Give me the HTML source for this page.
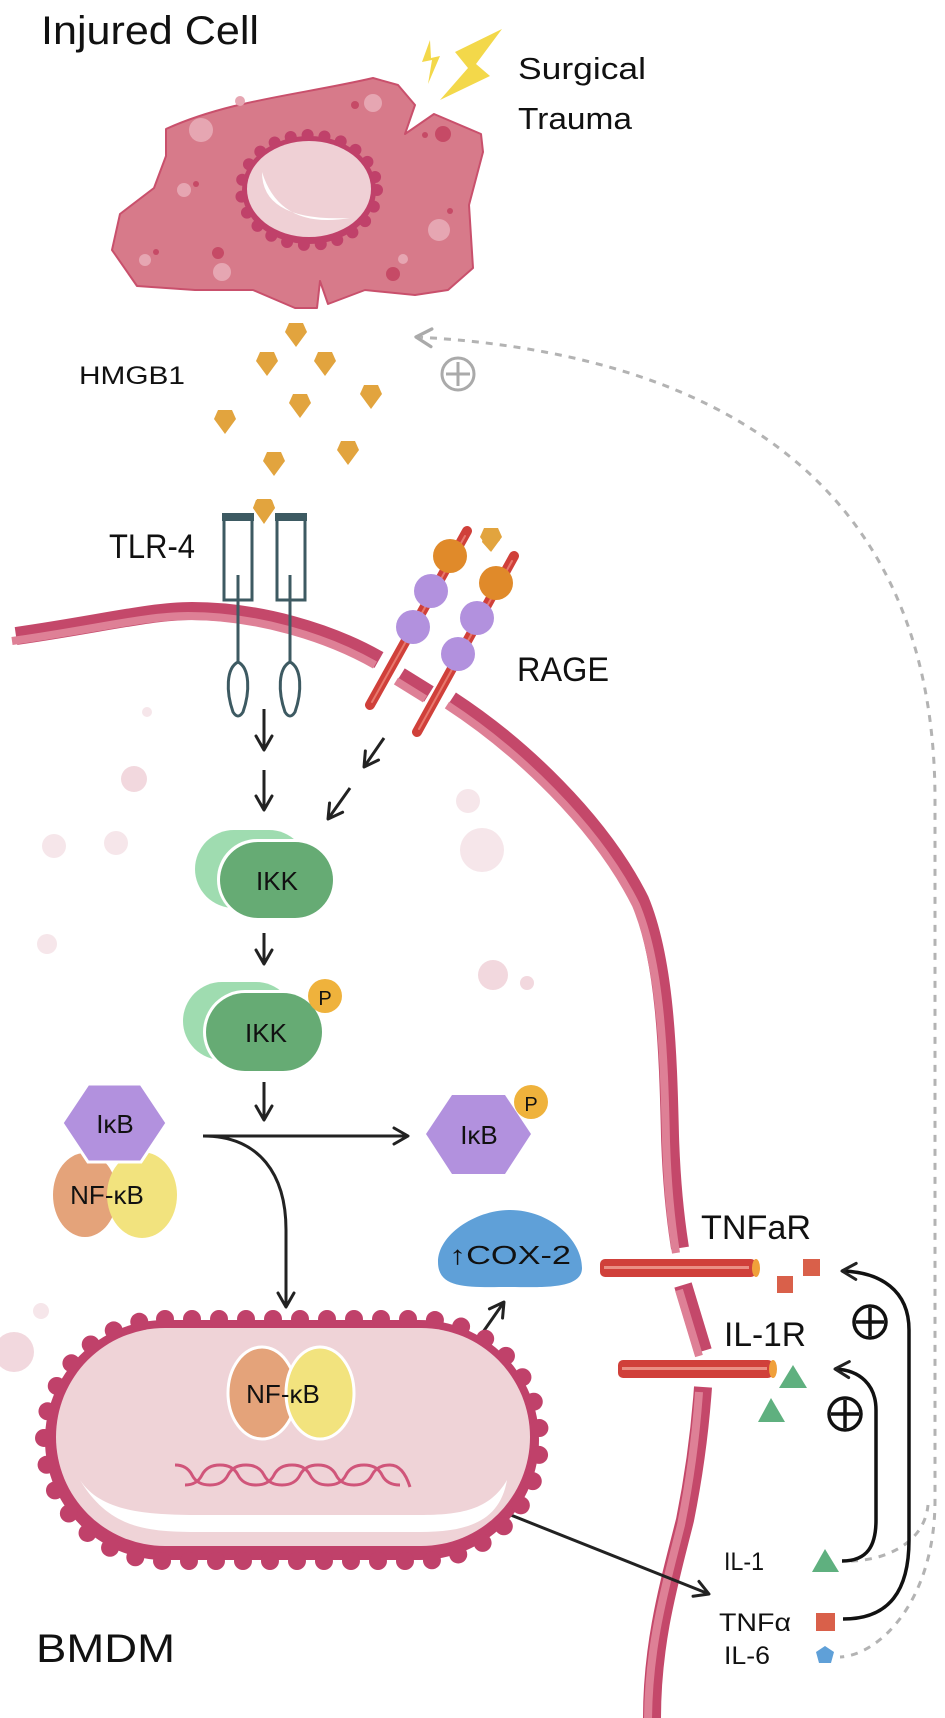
<!DOCTYPE html>
<html><head><meta charset="utf-8"><style>
html,body{margin:0;padding:0;background:#fff}
svg{display:block}
text{font-family:"Liberation Sans",sans-serif;fill:#111}
</style></head><body>
<svg width="945" height="1718" viewBox="0 0 945 1718" xmlns="http://www.w3.org/2000/svg">
<defs>
<marker id="ah" viewBox="0 0 20 20" refX="17" refY="10" markerWidth="20" markerHeight="20" markerUnits="userSpaceOnUse" orient="auto">
<path d="M3,2 L17,10 L3,18" fill="none" stroke="#222" stroke-width="3" stroke-linecap="round" stroke-linejoin="round"/></marker>
<marker id="ahg" viewBox="0 0 20 20" refX="3" refY="10" markerWidth="22" markerHeight="22" markerUnits="userSpaceOnUse" orient="auto">
<path d="M17,2 L3,10 L17,18" fill="none" stroke="#aaa" stroke-width="3" stroke-linecap="round" stroke-linejoin="round"/></marker>
</defs>

<g fill="#f6e6ea">
<circle cx="134" cy="779" r="13" fill="#f2d8de"/><circle cx="54" cy="846" r="12"/><circle cx="116" cy="843" r="12"/>
<circle cx="47" cy="944" r="10"/><circle cx="468" cy="801" r="12"/><circle cx="482" cy="850" r="22"/>
<circle cx="493" cy="975" r="15" fill="#f2d8de"/><circle cx="527" cy="983" r="7" fill="#f2d8de"/><circle cx="147" cy="712" r="5"/>
<circle cx="14" cy="1352" r="20" fill="#f2d8de"/><circle cx="41" cy="1311" r="8"/>
</g>

<text x="41" y="44" font-size="40" textLength="218" lengthAdjust="spacingAndGlyphs">Injured Cell</text>
<text x="518" y="79" font-size="31" textLength="128" lengthAdjust="spacingAndGlyphs">Surgical</text>
<text x="518" y="129" font-size="31" textLength="114" lengthAdjust="spacingAndGlyphs">Trauma</text>

<path d="M430,40 L422,62 L432,60 L428,84 L440,56 L431,58 Z" fill="#f3d84a"/>
<path d="M502,29 L455,52 L468,68 L440,100 L490,76 L476,64 Z" fill="#f3d84a"/>

<path d="M166,129 C230,100 300,95 373,78 L398,85 L415,105 L405,134 L434,114 L481,134 L483,152 L469,205 L473,268 L448,290 L415,295 L365,290 L328,304 L320,281 L317,308 L295,308 L253,290 L195,290 L137,286 L112,250 L120,214 L154,188 L166,156 Z" fill="#d77a8a" stroke="#c9506c" stroke-width="2" stroke-linejoin="round"/>
<g fill="#e6a6b2"><circle cx="201" cy="130" r="12"/><circle cx="373" cy="103" r="9"/><circle cx="439" cy="230" r="11"/><circle cx="222" cy="272" r="9"/><circle cx="145" cy="260" r="6"/><circle cx="184" cy="190" r="7"/><circle cx="240" cy="101" r="5"/><circle cx="403" cy="259" r="5"/></g>
<g fill="#c64a66"><circle cx="443" cy="134" r="8"/><circle cx="355" cy="105" r="4"/><circle cx="218" cy="253" r="6"/><circle cx="393" cy="274" r="7"/><circle cx="196" cy="184" r="3"/><circle cx="450" cy="211" r="3"/><circle cx="425" cy="135" r="3"/><circle cx="156" cy="252" r="3"/></g>
<ellipse cx="309" cy="190" rx="67" ry="54" fill="#c0416a"/>
<ellipse cx="309" cy="190" rx="68" ry="55" fill="none" stroke="#c0416a" stroke-width="12" stroke-dasharray="0 17" stroke-linecap="round"/>
<ellipse cx="309" cy="189" rx="62" ry="48" fill="#efd0d5"/>
<path d="M262,172 Q262,222 350,218 Q280,230 262,172 Z" fill="#fff"/>

<text x="79" y="384" font-size="25" textLength="106" lengthAdjust="spacingAndGlyphs">HMGB1</text>
<g fill="#e2a43e">
<path id="hx" d="M-7,-12 L7,-12 L11,-3 L0,12 L-11,-3 Z" transform="translate(296,335)"/>
<use href="#hx" transform="translate(-29,29)"/><use href="#hx" transform="translate(29,29)"/>
<use href="#hx" transform="translate(75,62)"/><use href="#hx" transform="translate(4,71)"/>
<use href="#hx" transform="translate(-71,87)"/><use href="#hx" transform="translate(52,118)"/>
<use href="#hx" transform="translate(-22,129)"/><use href="#hx" transform="translate(-32,176)"/>
<use href="#hx" transform="translate(195,205)"/>
</g>

<path d="M416,337 C700,352 935,470 935,800 L935,1500 C935,1600 880,1655 840,1657" fill="none" stroke="#b3b3b3" stroke-width="3" stroke-dasharray="7 7" marker-start="url(#ahg)"/>
<path d="M851,1561 C890,1560 925,1540 928,1505" fill="none" stroke="#b3b3b3" stroke-width="3" stroke-dasharray="7 7"/>
<circle cx="458" cy="374" r="16" fill="none" stroke="#aaa" stroke-width="3"/>
<path d="M446,374 H470 M458,362 V386" stroke="#aaa" stroke-width="3"/>

<g fill="none" stroke-linecap="butt">
<g stroke="#c4486a" stroke-width="18">
<path d="M16,636 C100,624 150,611 192,611 C260,611 330,632 379,660"/>
<path d="M400,676 L429,694"/>
<path d="M451,700 C520,745 600,820 640,900 C665,960 668,1050 670,1136 C672,1200 678,1235 680,1248"/>
<path d="M683,1285 L703,1351"/>
<path d="M703,1387 C700,1430 695,1470 685,1520 C670,1580 652,1640 652,1718"/>
</g>
<g stroke="#de8096" stroke-width="8" transform="translate(-4,5)">
<path d="M16,636 C100,624 150,611 192,611 C260,611 330,632 379,660"/>
<path d="M400,676 L429,694"/>
<path d="M451,700 C520,745 600,820 640,900 C665,960 668,1050 670,1136 C672,1200 678,1235 680,1248"/>
<path d="M683,1285 L703,1351"/>
<path d="M703,1387 C700,1430 695,1470 685,1520 C670,1580 652,1640 652,1718"/>
</g>
</g>

<text x="109" y="558" font-size="34" textLength="86" lengthAdjust="spacingAndGlyphs">TLR-4</text>
<g fill="none" stroke="#3d5a62" stroke-width="3">
<rect x="224" y="516" width="28" height="84"/><rect x="277" y="516" width="28" height="84"/>
<path d="M238,575 V662 M290,575 V662"/>
<path d="M238,662 C226,668 226,692 233,712 Q238,720 243,712 C250,692 250,668 238,662 Z"/>
<path d="M290,662 C278,668 278,692 285,712 Q290,720 295,712 C302,692 302,668 290,662 Z"/>
</g>
<rect x="222" y="513" width="32" height="8" fill="#3d5a62"/><rect x="275" y="513" width="32" height="8" fill="#3d5a62"/>
<path d="M256,500 L272,500 L275,508 L264,524 L253,508 Z" fill="#e2a43e"/>

<g stroke-linecap="round">
<line x1="467" y1="531" x2="370" y2="705" stroke="#d0403a" stroke-width="10"/>
<line x1="514" y1="556" x2="417" y2="732" stroke="#d0403a" stroke-width="10"/>
<line x1="465" y1="536" x2="372" y2="702" stroke="#e8796e" stroke-width="2"/>
<line x1="512" y1="561" x2="419" y2="729" stroke="#e8796e" stroke-width="2"/>
</g>
<g><circle cx="450" cy="556" r="17" fill="#e08a2a"/><circle cx="496" cy="583" r="17" fill="#e08a2a"/>
<circle cx="431" cy="591" r="17" fill="#b291de"/><circle cx="413" cy="627" r="17" fill="#b291de"/>
<circle cx="477" cy="618" r="17" fill="#b291de"/><circle cx="458" cy="654" r="17" fill="#b291de"/></g>
<path d="M484,532 L496,529 L500,540 L490,551 L482,542 Z" fill="#e2a43e"/>
<text x="517" y="681" font-size="34" textLength="92" lengthAdjust="spacingAndGlyphs">RAGE</text>

<g stroke="#222" stroke-width="3" fill="none" marker-end="url(#ah)">
<line x1="264" y1="709" x2="264" y2="750"/>
<line x1="264" y1="770" x2="264" y2="810"/>
<line x1="384" y1="738" x2="364" y2="767"/>
<line x1="350" y1="788" x2="328" y2="819"/>
<line x1="264" y1="933" x2="264" y2="964"/>
<line x1="264" y1="1082" x2="264" y2="1120"/>
<line x1="203" y1="1136" x2="408" y2="1136"/>
<path d="M203,1136 C260,1136 286,1175 286,1230 L286,1307"/>
<line x1="453" y1="1375" x2="504" y2="1302"/>
<line x1="458" y1="1494" x2="709" y2="1594"/>
</g>

<rect x="195" y="830" width="113" height="78" rx="39" fill="#9fdcb0"/>
<rect x="217" y="839" width="118" height="81" rx="40" fill="#fff"/>
<rect x="220" y="842" width="113" height="76" rx="38" fill="#66ab74"/>
<text x="277" y="890" font-size="26" text-anchor="middle">IKK</text>

<rect x="183" y="982" width="112" height="78" rx="39" fill="#9fdcb0"/>
<rect x="203" y="990" width="122" height="84" rx="42" fill="#fff"/>
<rect x="206" y="993" width="116" height="78" rx="39" fill="#66ab74"/>
<text x="266" y="1042" font-size="26" text-anchor="middle">IKK</text>
<circle cx="325" cy="996" r="17" fill="#efb23c"/>
<text x="325" y="1005" font-size="20" text-anchor="middle">P</text>

<ellipse cx="85" cy="1195" rx="32" ry="42" fill="#e4a37a"/>
<ellipse cx="142" cy="1195" rx="35" ry="43" fill="#f2e37e"/>
<path d="M62,1123 L88,1084 L141,1084 L167,1123 L141,1162 L88,1162 Z" fill="#b291de" stroke="#fff" stroke-width="3"/>
<text x="115" y="1133" font-size="26" text-anchor="middle">IκB</text>
<text x="107" y="1204" font-size="26" text-anchor="middle">NF-κB</text>

<path d="M426,1134 L452,1095 L505,1095 L531,1134 L505,1174 L452,1174 Z" fill="#b291de"/>
<text x="479" y="1144" font-size="26" text-anchor="middle">IκB</text>
<circle cx="531" cy="1102" r="17" fill="#efb23c"/>
<text x="531" y="1111" font-size="20" text-anchor="middle">P</text>

<path d="M438,1262 C438,1235 475,1210 510,1210 C550,1210 582,1240 582,1268 C582,1290 540,1287 510,1287 C470,1287 438,1290 438,1262 Z" fill="#5fa0d8"/>
<text x="510" y="1264" font-size="26" text-anchor="middle" textLength="122" lengthAdjust="spacingAndGlyphs">↑COX-2</text>

<rect x="600" y="1259" width="156" height="18" rx="5" fill="#d0403a"/>
<rect x="604" y="1266" width="145" height="3" fill="#ea8f84"/>
<ellipse cx="756" cy="1268" rx="4" ry="9" fill="#f0a03a"/>
<rect x="618" y="1360" width="155" height="18" rx="5" fill="#d0403a"/>
<rect x="622" y="1367" width="145" height="3" fill="#ea8f84"/>
<ellipse cx="773" cy="1369" rx="4" ry="9" fill="#f0a03a"/>
<text x="701" y="1239" font-size="34" textLength="110" lengthAdjust="spacingAndGlyphs">TNFaR</text>
<text x="724" y="1346" font-size="34" textLength="82" lengthAdjust="spacingAndGlyphs">IL-1R</text>

<g fill="#d9604a"><rect x="777" y="1276" width="16" height="17"/><rect x="803" y="1259" width="17" height="17"/><rect x="816" y="1613" width="19" height="18"/></g>
<g fill="#5fb07f"><path d="M793,1365 L807,1388 L779,1388 Z"/><path d="M771,1398 L785,1422 L758,1422 Z"/><path d="M825,1549 L839,1572 L812,1572 Z"/></g>
<path d="M825,1646 L834,1652 L831,1663 L819,1663 L816,1652 Z" fill="#5fa0d8"/>

<text x="724" y="1570" font-size="25" textLength="40" lengthAdjust="spacingAndGlyphs">IL-1</text>
<text x="719" y="1631" font-size="25" textLength="72" lengthAdjust="spacingAndGlyphs">TNFα</text>
<text x="724" y="1664" font-size="25" textLength="46" lengthAdjust="spacingAndGlyphs">IL-6</text>

<g stroke="#111" stroke-width="3.5" fill="none" marker-end="url(#ah)">
<path d="M843,1619 C890,1619 909,1590 909,1540 L909,1330 C909,1290 880,1272 842,1271"/>
<path d="M842,1561 C868,1561 876,1545 876,1520 L876,1410 C876,1385 860,1370 835,1369"/>
</g>
<g fill="none" stroke="#111" stroke-width="3.5">
<circle cx="870" cy="1322" r="16"/><path d="M856,1322 H884 M870,1308 V1336"/>
<circle cx="845" cy="1414" r="16"/><path d="M831,1414 H859 M845,1400 V1428"/>
</g>

<rect x="45" y="1320" width="494" height="240" rx="120" fill="#c0416a"/>
<rect x="44" y="1319" width="496" height="242" rx="121" fill="none" stroke="#c0416a" stroke-width="18" stroke-dasharray="0 27" stroke-linecap="round"/>
<rect x="56" y="1328" width="474" height="218" rx="109" fill="#efd3d7"/>
<path d="M80,1480 C110,1530 150,1532 200,1532 L420,1532 C470,1532 500,1520 507,1480 C490,1510 460,1515 420,1515 L200,1515 C140,1515 100,1510 80,1480 Z" fill="#fff"/>
<ellipse cx="262" cy="1393" rx="34" ry="46" fill="#e4a37a" stroke="#fff" stroke-width="3"/>
<ellipse cx="320" cy="1393" rx="34" ry="46" fill="#f2e37e" stroke="#fff" stroke-width="3"/>
<text x="283" y="1403" font-size="26" text-anchor="middle">NF-κB</text>
<g fill="none" stroke="#d0557a" stroke-width="3">
<path d="M175,1465 Q187,1465 192,1475 T210,1485 T228,1475 T246,1465 T264,1475 T282,1485 T300,1475 T318,1465 T336,1475 T354,1485 T372,1475 T390,1465 T410,1487"/>
<path d="M185,1485 Q197,1485 202,1475 T220,1465 T238,1475 T256,1485 T274,1475 T292,1465 T310,1475 T328,1485 T346,1475 T364,1465 T382,1475 T400,1485"/>
</g>

<text x="36" y="1662" font-size="40" textLength="139" lengthAdjust="spacingAndGlyphs">BMDM</text>
</svg>
</body></html>
